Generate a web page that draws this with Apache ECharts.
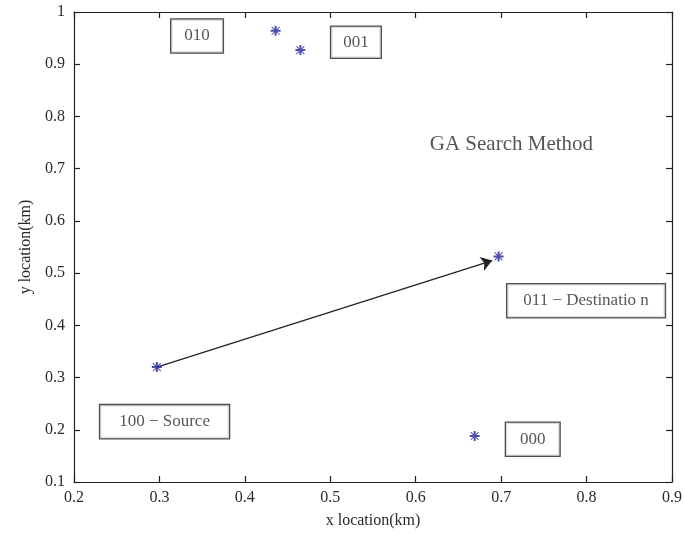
<!DOCTYPE html>
<html>
<head>
<meta charset="utf-8">
<script src="https://cdn.jsdelivr.net/npm/echarts@6/dist/echarts.min.js"></script>
<style>
  html, body { margin: 0; padding: 0; background: #fff; }
  #chart { width: 685px; height: 534px; }
</style>
</head>
<body>
<div id="chart"></div>
<script>
// node positions (km)
const nodeX = [0.436, 0.465, 0.297, 0.697, 0.669]
const nodeY = [0.964, 0.927, 0.320, 0.532, 0.188]

// arrow from source to destination
const arrowFrom = [0.297, 0.320]
const arrowTo = [0.6895, 0.524]

// text boxes
const boxText = ['010', '001', '100 \u2212 Source', '011 \u2212 Destinatio n', '000']
const boxX = [0.344, 0.530, 0.306, 0.7994, 0.737]
const boxY = [0.954, 0.942, 0.2156, 0.447, 0.182]

const titleText = 'GA Search Method'
const titlePos = [0.712, 0.746]

const xTicks = { min: 0.2, max: 0.9, interval: 0.1 }
const yTicks = { min: 0.1, max: 1, interval: 0.1 }

const font = 'Liberation Serif'
const chart = echarts.init(document.getElementById('chart'))

// asterisk marker
const starPath = 'path://M4,0h2v10h-2z M0,4h10v2h-10z M1.4,0.7L9.3,8.6L8.6,9.3L0.7,1.4Z M8.6,0.7L9.3,1.4L1.4,9.3L0.7,8.6Z'

const boxPad = [[8, 13], [7, 12], [8, 19], [8, 16], [8, 14]]

const tickLabel = (v) => {
  const r = Math.round(v * 10) / 10
  return r === 1 ? '1' : String(r)
}

const axisCommon = {
  axisLine: { show: true, onZero: false, lineStyle: { color: '#222', width: 1.2 } },
  axisTick: { show: true, inside: true, length: 6, lineStyle: { color: '#222', width: 1.2 } },
  splitLine: { show: false },
}

const option = {
  animation: false,
  backgroundColor: '#fff',
  grid: { left: 74, right: 11, top: 12, bottom: 49 },
  xAxis: [
    {
      type: 'value', ...xTicks, position: 'bottom', ...axisCommon,
      name: 'x location(km)', nameLocation: 'middle', nameGap: 31,
      nameTextStyle: { fontFamily: font, fontSize: 16, color: '#2a2a2a' },
      axisLabel: { fontFamily: font, fontSize: 16, color: '#2a2a2a', margin: 8, formatter: tickLabel },
    },
    {
      type: 'value', ...xTicks, position: 'top', ...axisCommon,
      axisLabel: { show: false },
    },
  ],
  yAxis: [
    {
      type: 'value', ...yTicks, position: 'left', ...axisCommon,
      name: 'y location(km)', nameLocation: 'middle', nameGap: 40, nameRotate: 90,
      nameTextStyle: { fontFamily: font, fontSize: 16, color: '#2a2a2a' },
      axisLabel: { fontFamily: font, fontSize: 16, color: '#2a2a2a', margin: 9, formatter: tickLabel },
    },
    {
      type: 'value', ...yTicks, position: 'right', ...axisCommon,
      axisLabel: { show: false },
    },
  ],
  series: [
    {
      type: 'lines',
      coordinateSystem: 'cartesian2d',
      silent: true,
      symbol: ['none', 'arrow'],
      symbolSize: 11,
      lineStyle: { color: '#222', width: 1.3, opacity: 1 },
      data: [{ coords: [arrowFrom, arrowTo] }],
      z: 3,
    },
    {
      type: 'scatter',
      symbol: starPath,
      symbolSize: 10,
      itemStyle: { color: '#22229a' },
      data: nodeX.map((x, i) => [x, nodeY[i]]),
      z: 4,
    },
    {
      type: 'scatter',
      symbolSize: 0,
      silent: true,
      data: boxText.map((t, i) => ({
        value: [boxX[i], boxY[i]],
        label: {
          show: true,
          position: 'inside',
          formatter: t,
          fontFamily: font,
          fontSize: 17,
          color: '#2a2a2a',
          backgroundColor: '#fff',
          borderColor: '#222',
          borderWidth: 1.3,
          padding: boxPad[i],
        },
      })),
      z: 5,
    },
    {
      type: 'scatter',
      symbolSize: 0,
      silent: true,
      data: [{
        value: titlePos,
        label: {
          show: true,
          position: 'inside',
          formatter: titleText,
          fontFamily: font,
          fontSize: 21,
          color: '#2a2a2a',
        },
      }],
    },
  ],
}
chart.setOption(option)
</script>
</body>
</html>
